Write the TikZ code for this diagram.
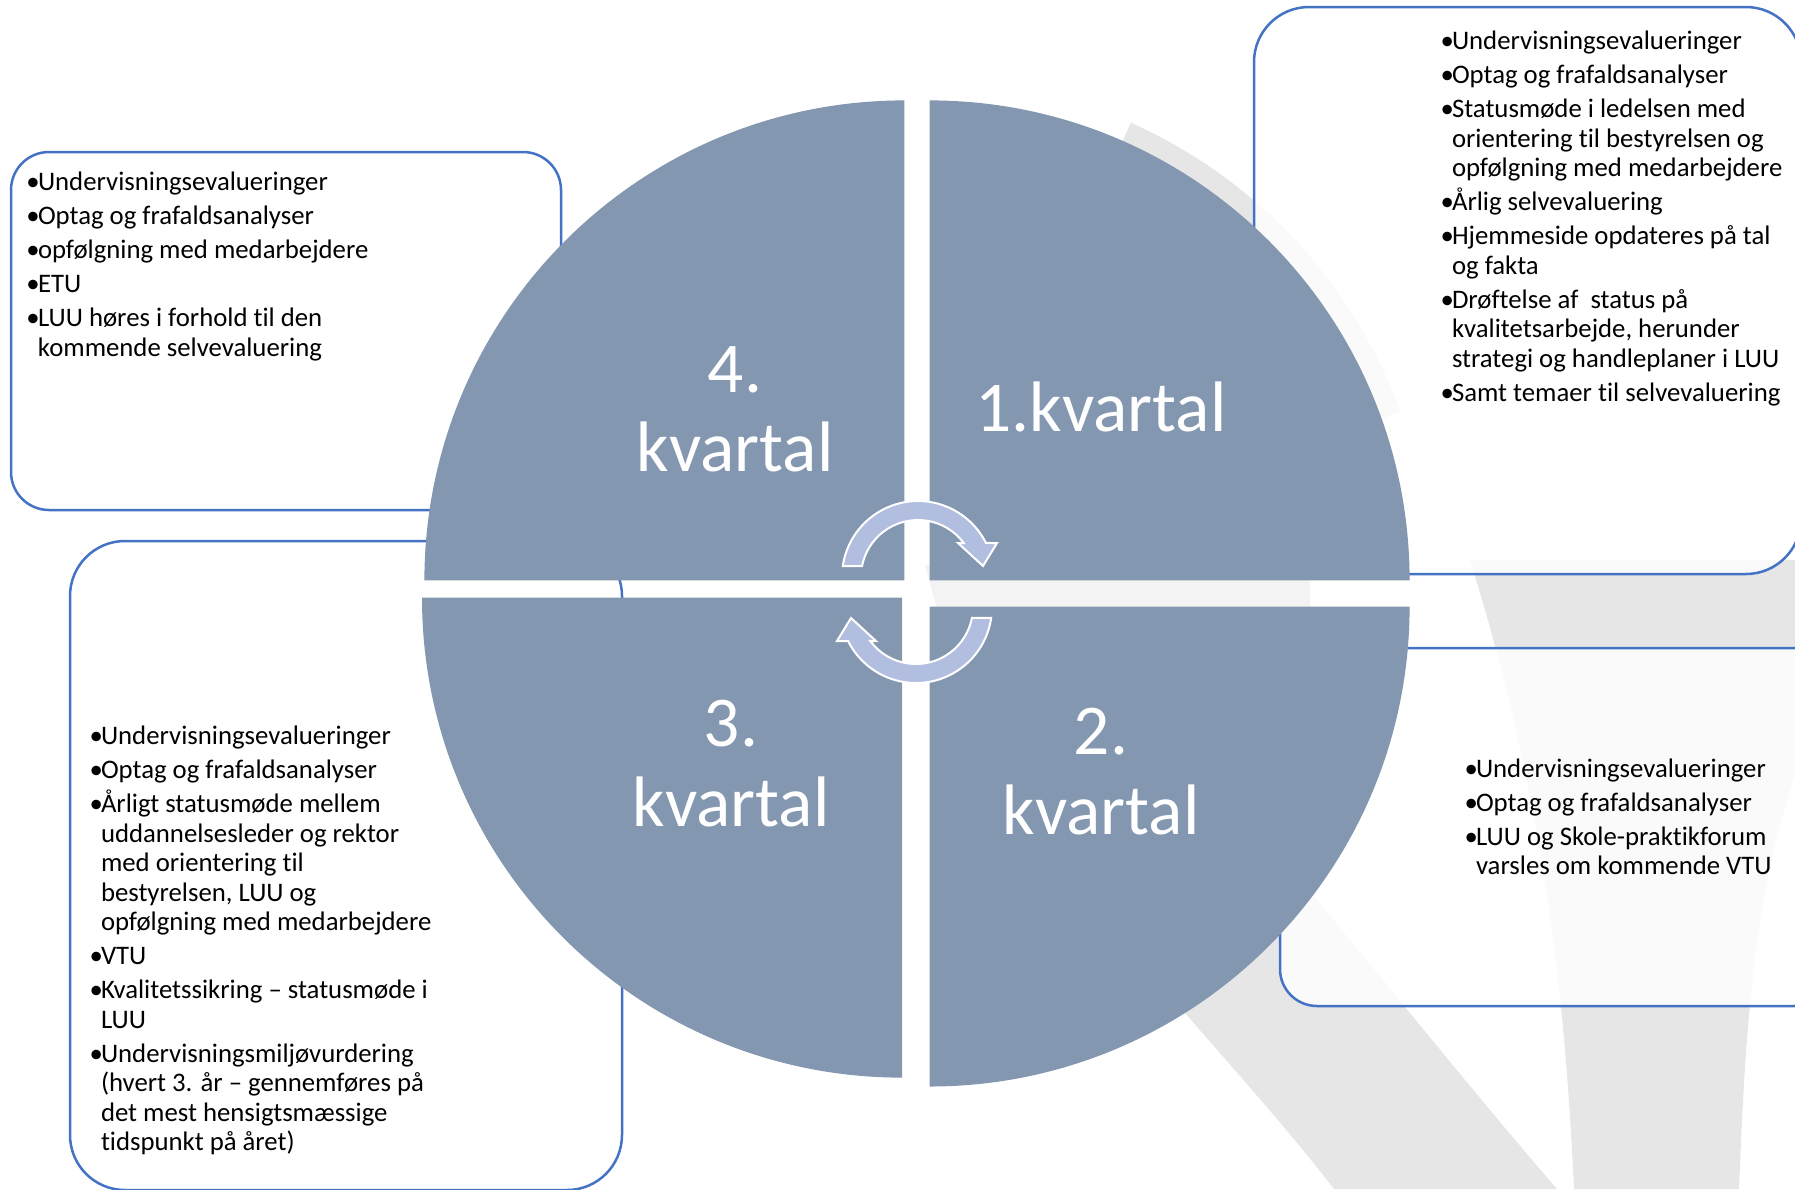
\documentclass[tikz,border=0pt]{standalone}
\usepackage{fontspec}
\setmainfont{Carlito}[Ligatures={TeX,NoCommon}]
\definecolor{quartercol}{RGB}{132,151,176}
\definecolor{panelblue}{RGB}{68,114,196}
\definecolor{turncol}{RGB}{178,190,224}
\definecolor{swoosh}{RGB}{230,230,230}
\definecolor{swooshlight}{RGB}{243,243,243}
\newcommand{\bul}{\makebox[4.6pt][l]{\textbullet}}
\newcommand{\cnt}{\hspace*{4.6pt}}

\begin{document}
\begin{tikzpicture}
  [x=0.4pt, y=0.4pt]
  \tikzstyle{bgband}   = [fill=swoosh];
  \tikzstyle{bgfaint}  = [fill=swooshlight];
  \tikzstyle{panel}    = [draw=panelblue, line width=1pt, fill=white, fill opacity=0.82];
  \tikzstyle{quarter}  = [fill=quartercol];
  \tikzstyle{turn}     = [fill=turncol, draw=white, line width=0.8pt];
  \tikzstyle{listtext} = [anchor=north west, inner sep=0pt, align=left, font=\fontsize{10.7}{11.8}\selectfont];
  \tikzstyle{qlabel}   = [anchor=base, inner sep=0pt, align=center, text=white, font=\fontsize{28.6}{31.8}\selectfont];

  \useasboundingbox (0,0) rectangle (1795,-1189);

  % background swooshes
  \fill[bgband, shift={(925,-585)}] (66:470) arc[start angle=66, end angle=20, radius=470]
    -- (20:506) arc[start angle=20, end angle=66, radius=506] -- cycle;
  \fill[bgfaint] (925,-565) -- (1310,-565) -- (1310,-620) -- (940,-620) -- cycle;
  \fill[bgband] (1080,-880) .. controls (1130,-960) and (1250,-1080) .. (1334,-1189)
    -- (1557,-1189) .. controls (1480,-1100) and (1400,-1000) .. (1300,-880) -- cycle;
  \fill[bgband] (1470,-560) -- (1800,-560) -- (1800,-760)
    .. controls (1750,-900) and (1745,-1050) .. (1739,-1189) -- (1574,-1189)
    .. controls (1565,-1000) and (1545,-800) .. (1470,-560) -- cycle;

  % text panels
  \draw[panel, rounded corners=15.2pt] (11,-152) rectangle (561,-510);
  \draw[panel, rounded corners=22pt] (1254,-7) rectangle (1801,-574);
  \draw[panel, rounded corners=22pt] (70,-541) rectangle (622,-1190);
  \draw[panel, rounded corners=14.8pt] (1280,-648) rectangle (1831,-1006);

  % quarters
  \fill[quarter] (929.6,-580.4) -- ++(0,480) arc[start angle=90, end angle=0, radius=480] -- cycle;
  \fill[quarter] (929.6,-606.5) -- ++(480,0) arc[start angle=0, end angle=-90, radius=480] -- cycle;
  \fill[quarter] (902,-597.6) -- ++(-480,0) arc[start angle=180, end angle=270, radius=480] -- cycle;
  \fill[quarter] (904.4,-580.4) -- ++(-480,0) arc[start angle=180, end angle=90, radius=480] -- cycle;

  % turning arrows
  \draw[turn, shift={(918,-577)}] (171.7:76) arc[start angle=171.7, end angle=26.6, radius=76]
    -- (79,34) -- (65,11) -- (40,34) -- (36.6:57)
    arc[start angle=36.6, end angle=168.9, radius=57] -- cycle;
  \draw[turn, shift={(916,-607)}, rotate=180] (171.7:76) arc[start angle=171.7, end angle=26.6, radius=76]
    -- (79,34) -- (65,11) -- (40,34) -- (36.6:57)
    arc[start angle=36.6, end angle=168.9, radius=57] -- cycle;

  \node[qlabel] (q1) at (1101,-431.7) {1.kvartal};
  \node[qlabel] (q2) at (1101,-834) {2.\\kvartal};
  \node[qlabel] (q3) at (731,-826.3) {3.\\kvartal};
  \node[qlabel] (q4) at (735,-471.5) {4.\\kvartal};

  \node[listtext] (list4) at (26,-169.4) {\strut\bul Undervisningsevalueringer\\[1.8pt]
    \bul Optag og frafaldsanalyser\\[1.8pt]
    \bul opfølgning med medarbejdere\\[1.8pt]
    \bul ETU\\[1.8pt]
    \bul LUU høres i forhold til den\\
    \cnt kommende selvevaluering};

  \node[listtext] (list1) at (1440,-28.4) {\strut\bul Undervisningsevalueringer\\[1.8pt]
    \bul Optag og frafaldsanalyser\\[1.8pt]
    \bul Statusmøde i ledelsen med\\
    \cnt orientering til bestyrelsen og\\
    \cnt opfølgning med medarbejdere\\[1.8pt]
    \bul Årlig selvevaluering\\[1.8pt]
    \bul Hjemmeside opdateres på tal\\
    \cnt og fakta\\[1.8pt]
    \bul Drøftelse af\ \ status på\\
    \cnt kvalitetsarbejde, herunder\\
    \cnt strategi og handleplaner i LUU\\[1.8pt]
    \bul Samt temaer til selvevaluering};

  \node[listtext] (list3) at (89,-723.4) {\strut\bul Undervisningsevalueringer\\[1.8pt]
    \bul Optag og frafaldsanalyser\\[1.8pt]
    \bul Årligt statusmøde mellem\\
    \cnt uddannelsesleder og rektor\\
    \cnt med orientering til\\
    \cnt bestyrelsen, LUU og\\
    \cnt opfølgning med medarbejdere\\[1.8pt]
    \bul VTU\\[1.8pt]
    \bul Kvalitetssikring – statusmøde i\\
    \cnt LUU\\[1.8pt]
    \bul Undervisningsmiljøvurdering\\
    \cnt (hvert 3. år – gennemføres på\\
    \cnt det mest hensigtsmæssige\\
    \cnt tidspunkt på året)};

  \node[listtext] (list2) at (1464,-755.9) {\strut\bul Undervisningsevalueringer\\[1.8pt]
    \bul Optag og frafaldsanalyser\\[1.8pt]
    \bul LUU og Skole-praktikforum\\
    \cnt varsles om kommende VTU};

\end{tikzpicture}
\end{document}
